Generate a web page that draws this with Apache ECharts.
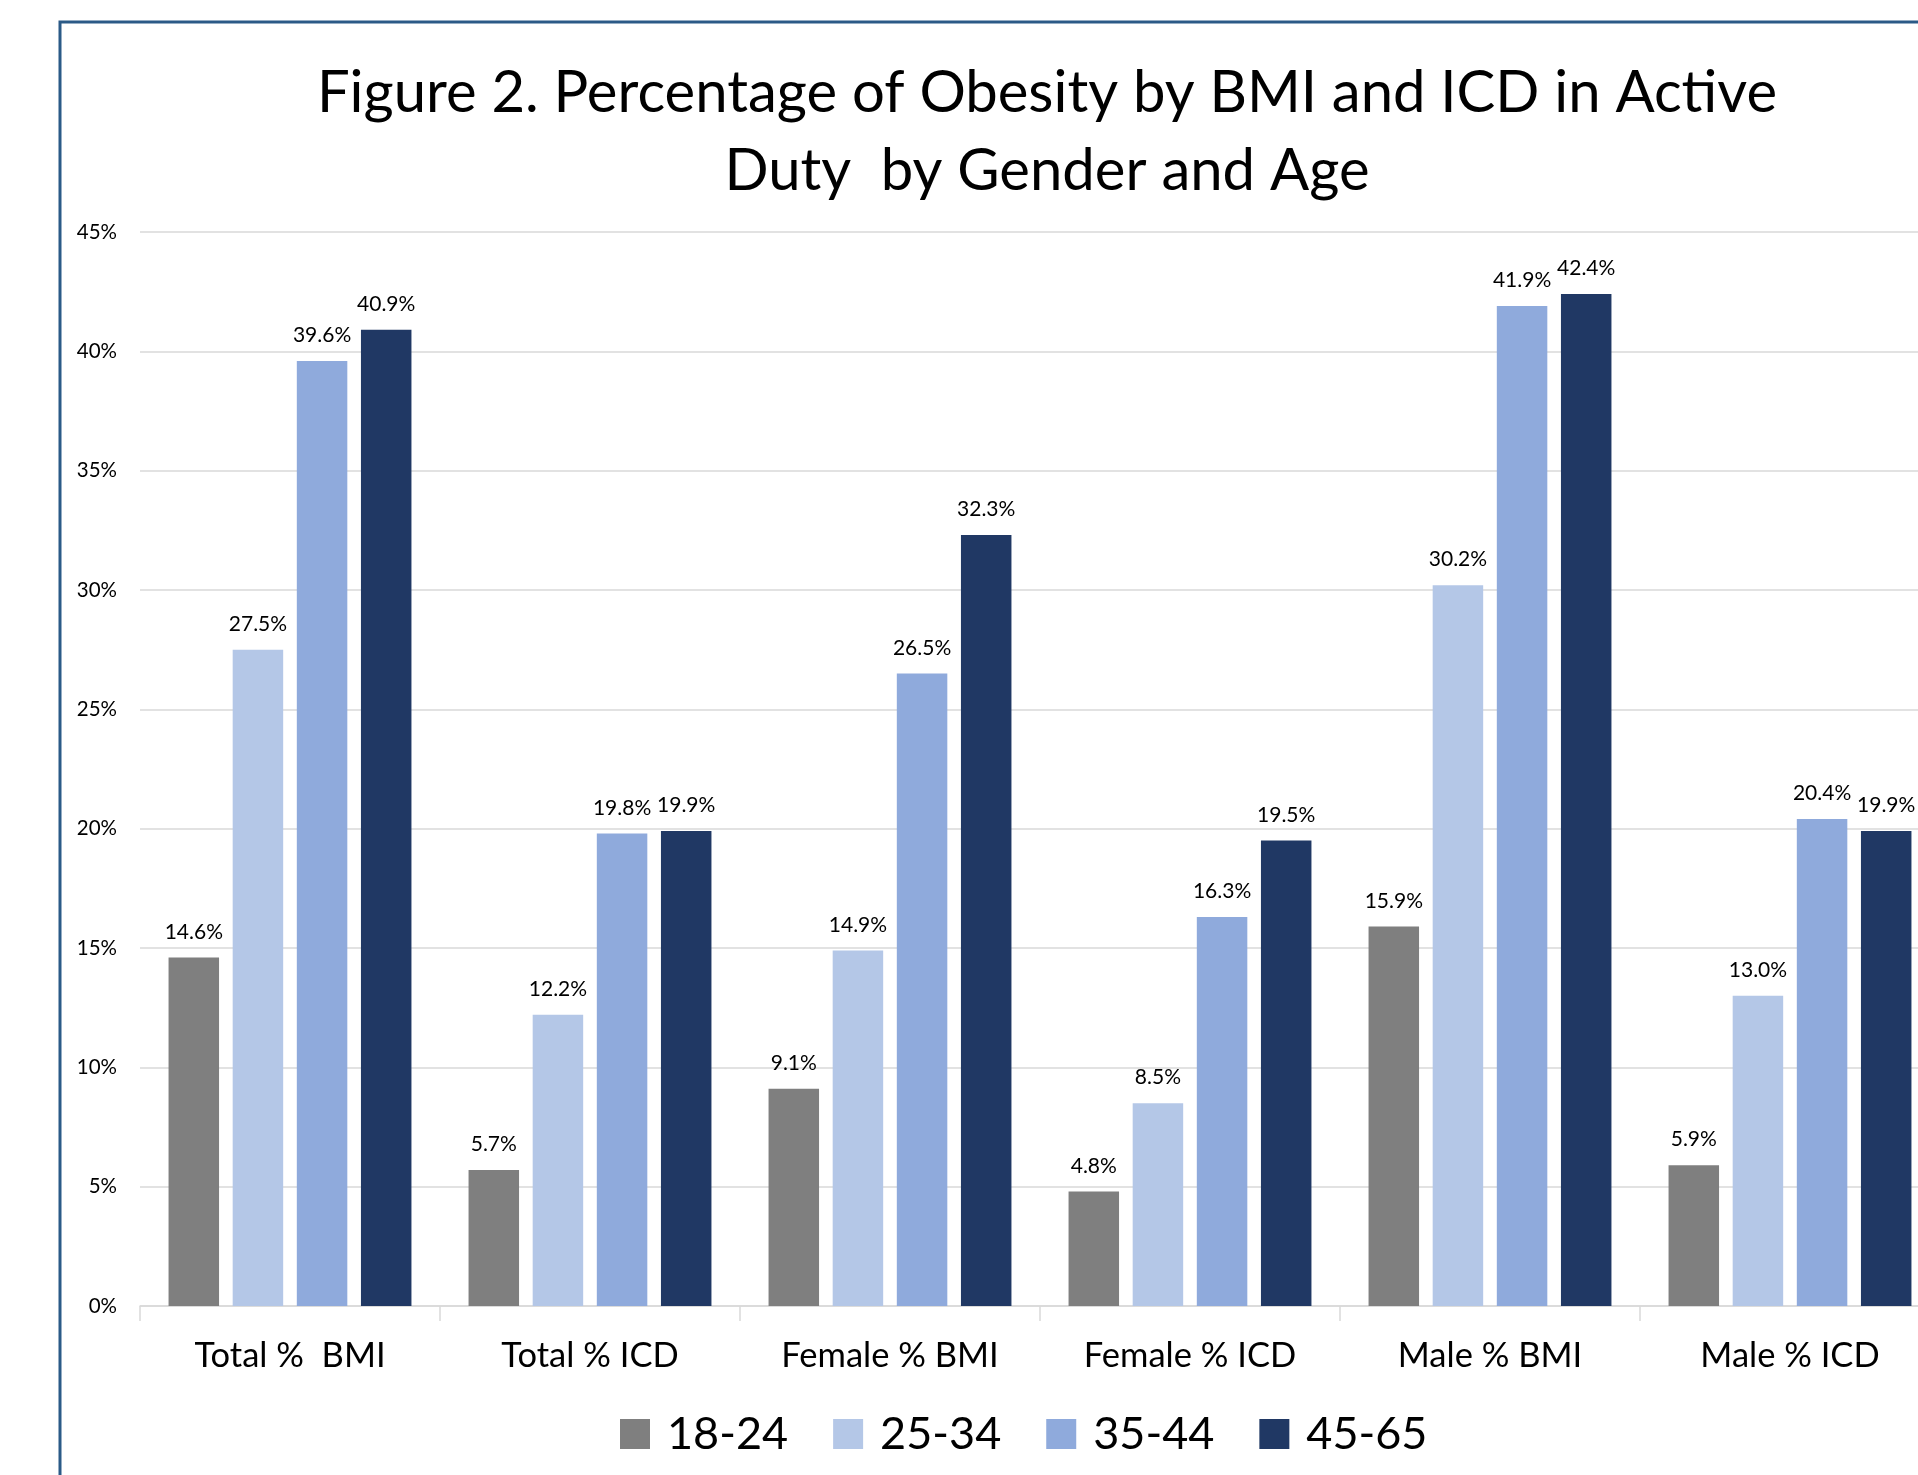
<!DOCTYPE html>
<html>
<head>
<meta charset="utf-8">
<script src="https://cdn.jsdelivr.net/npm/echarts@6/dist/echarts.min.js"></script>
<style>
html,body{margin:0;padding:0;background:#fff;}
#chart{width:1918px;height:1475px;}
</style>
</head>
<body>
<div id="chart"></div>
<script>
const categories = ['Total %  BMI', 'Total % ICD', 'Female % BMI', 'Female % ICD', 'Male % BMI', 'Male % ICD'];
const seriesNames = ['18-24', '25-34', '35-44', '45-65'];
const age18_24 = [14.6, 5.7, 9.1, 4.8, 15.9, 5.9];
const age25_34 = [27.5, 12.2, 14.9, 8.5, 30.2, 13.0];
const age35_44 = [39.6, 19.8, 26.5, 16.3, 41.9, 20.4];
const age45_65 = [40.9, 19.9, 32.3, 19.5, 42.4, 19.9];
const yTicks = {min: 0, max: 45, interval: 5};
const titleLines = ['Figure 2. Percentage of Obesity by BMI and ICD in Active', 'Duty  by Gender and Age'];
const colors = ['#7f7f7f', '#b4c7e7', '#8faadc', '#203864'];

const allData = [age18_24, age25_34, age35_44, age45_65];

const chart = echarts.init(document.getElementById('chart'), null, {renderer: 'canvas'});
const option = {
  backgroundColor: '#ffffff',
  animation: false,
  color: colors,
  graphic: [
    {type: 'rect', shape: {x: 60, y: 22, width: 2000, height: 2000}, style: {fill: 'none', stroke: '#2b5a87', lineWidth: 3}, z: 100},
    {type: 'text', x: 1047, y: 93, style: {text: titleLines[0], font: '58px Lato', fill: '#000', textAlign: 'center', textVerticalAlign: 'middle'}},
    {type: 'text', x: 1047, y: 171, style: {text: titleLines[1], font: '58px Lato', fill: '#000', textAlign: 'center', textVerticalAlign: 'middle'}}
  ],
  legend: {
    data: seriesNames,
    left: 615,
    top: 1404,
    padding: 5,
    icon: 'rect',
    itemWidth: 30,
    itemHeight: 30,
    itemGap: 45,
    textStyle: {fontFamily: 'Lato', fontSize: 45, color: '#000', lineHeight: 50, padding: [0, 0, 0, 12]}
  },
  grid: {left: 140, top: 232, width: 1800, height: 1074, containLabel: false, outerBoundsMode: 'none'},
  xAxis: {
    type: 'category',
    data: categories,
    axisLine: {lineStyle: {color: '#d9d9d9', width: 1.5}},
    axisTick: {show: true, length: 15, lineStyle: {color: '#d9d9d9', width: 1.5}},
    axisLabel: {fontFamily: 'Lato', fontSize: 34.5, color: '#000', margin: 32, interval: 0}
  },
  yAxis: {
    type: 'value',
    min: yTicks.min,
    max: yTicks.max,
    interval: yTicks.interval,
    axisLine: {show: false},
    axisTick: {show: false},
    splitLine: {lineStyle: {color: '#d9d9d9', width: 1.5}},
    axisLabel: {formatter: '{value}%', fontFamily: 'Lato', fontSize: 20.5, color: '#000', margin: 23}
  },
  series: seriesNames.map((name, i) => ({
    name: name,
    type: 'bar',
    data: allData[i],
    barWidth: 50.5,
    barGap: '27%',
    itemStyle: {color: colors[i]},
    label: {
      show: true,
      position: 'top',
      distance: 15,
      fontFamily: 'Lato',
      fontSize: 21,
      color: '#000',
      formatter: p => p.value.toFixed(1) + '%'
    }
  }))
};
chart.setOption(option);
</script>
</body>
</html>
